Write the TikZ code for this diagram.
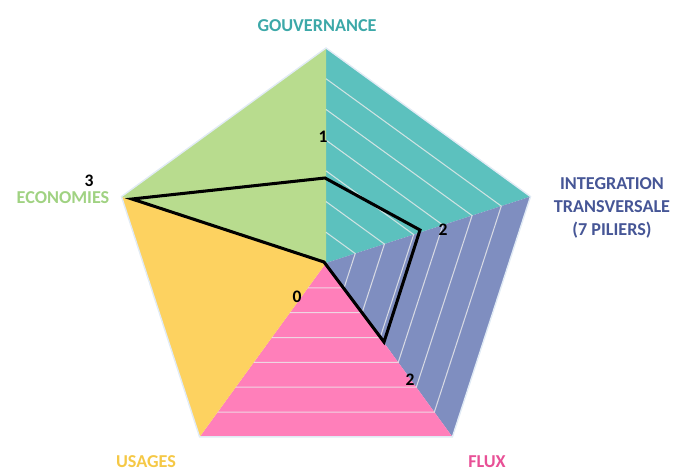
\documentclass[tikz,border=0pt]{standalone}
\usepackage{fontspec}
\setmainfont{Carlito}
\usetikzlibrary{calc}
\definecolor{cgreen}{RGB}{184,220,142}
\definecolor{cteal}{RGB}{92,193,190}
\definecolor{cblue}{RGB}{127,142,192}
\definecolor{cpink}{RGB}{255,127,186}
\definecolor{cyellow}{RGB}{253,210,96}
\definecolor{tgreen}{RGB}{160,210,130}
\definecolor{tteal}{RGB}{60,168,168}
\definecolor{tblue}{RGB}{70,86,150}
\definecolor{tpink}{RGB}{232,80,150}
\definecolor{tyellow}{RGB}{245,200,70}
\definecolor{edgec}{RGB}{225,235,245}
\begin{document}
\begin{tikzpicture}[x=0.03cm,y=-0.03cm,
  gridline/.style={white!85!gray, line width=0.9pt, opacity=0.8},
  outline/.style={edgec, line width=1.2pt, line join=miter},
  dataline/.style={black, line width=2.6pt, line join=miter},
  axislabel/.style={font=\bfseries\fontsize{15.5}{19.5}\selectfont, align=center, inner sep=0pt},
  valuelabel/.style={font=\bfseries\fontsize{15}{16}\selectfont, text=black, inner sep=0pt}]
\useasboundingbox (0,0) rectangle (682,472);
% axis vertices
\coordinate (C) at (326,263);
\coordinate (G) at (326,48);
\coordinate (I) at (530.5,196.6);
\coordinate (F) at (452.4,436.9);
\coordinate (U) at (199.6,436.9);
\coordinate (E) at (121.5,196.6);
% sectors
\fill[cteal] (C) -- (G) -- (I) -- cycle;
\fill[cblue] (C) -- (I) -- (F) -- cycle;
\fill[cpink] (C) -- (F) -- (U) -- cycle;
\fill[cyellow] (C) -- (U) -- (E) -- cycle;
\fill[cgreen] (C) -- (E) -- (G) -- cycle;
% grid lines
\foreach \k in {1,...,6}{
  \draw[gridline] ($(C)!\k/7!(G)$) -- ($(C)!\k/7!(I)$) -- ($(C)!\k/7!(F)$) -- ($(C)!\k/7!(U)$);
}
\draw[outline] (G) -- (I) -- (F) -- (U) -- (E) -- cycle;
% data polygon
\coordinate (dG) at (325,178);
\coordinate (dI) at (420,230);
\coordinate (dF) at (384,342);
\coordinate (dU) at (324,262);
\coordinate (dE) at (132,199);
\draw[dataline] (dG) -- (dI) -- (dF) -- (dU) -- (dE) -- cycle;
% axis labels
\node[axislabel, text=tteal] (lG) at (317,26) {GOUVERNANCE};
\node[axislabel, text=tblue] (lI) at (612,208) {INTEGRATION\\TRANSVERSALE\\(7 PILIERS)};
\node[axislabel, text=tpink] (lF) at (487,462) {FLUX};
\node[axislabel, text=tyellow] (lU) at (146,462) {USAGES};
\node[axislabel, text=tgreen] (lE) at (63,198) {ECONOMIES};
% value labels
\node[valuelabel] (vG) at (323,137) {1};
\node[valuelabel] (vI) at (443,230) {2};
\node[valuelabel] (vF) at (410,380) {2};
\node[valuelabel] (vU) at (297,297) {0};
\node[valuelabel] (vE) at (89,181) {3};
\end{tikzpicture}
\end{document}
